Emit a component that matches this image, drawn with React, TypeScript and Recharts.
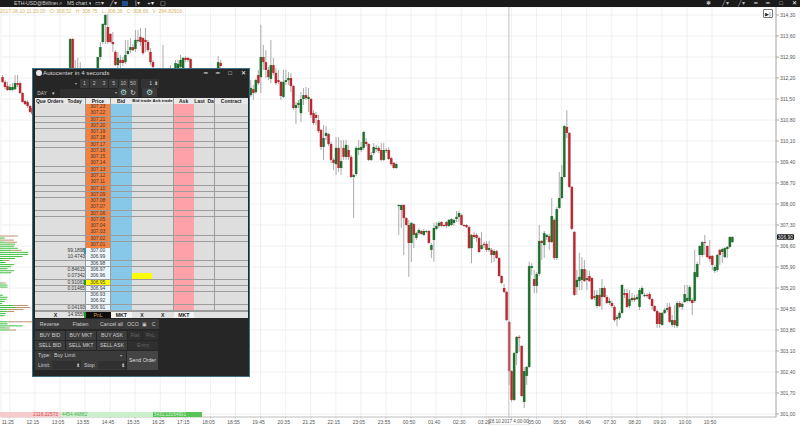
import { Bar, BarChart, CartesianGrid, ComposedChart, ReferenceLine, XAxis, YAxis } from 'recharts';

const _ = null;

// M5 candles, one entry per bar, null where the order window hides the bar
const opens = [
  312.23, 312.07, 311.93, 311.80, 311.80, 311.83, 312.03, 312.03, 311.70, 311.43,
  311.40, 311.27, 311.20, _, _, _, _, _, _, _,
  _, _, _, _, _, _, _, 311.80, 313.50, 312.30,
  311.97, 312.13, _, _, _, _, _, _, 312.30, 312.90,
  313.40, 313.97, 313.90, 313.67, 313.40, 313.07, 312.63, 312.80, 312.80, 312.73,
  313.00, 313.13, 313.23, 313.17, 313.43, 313.57, 313.53, 313.47, 313.40, 313.07,
  312.73, _, _, _, 312.47, _, _, 312.30, _, 312.40,
  312.47, 312.57, 312.53, 312.87, 312.87, 312.83, _, _, _, _,
  _, _, _, _, _, _, 312.30, 312.70, _, _,
  _, _, _, _, _, _, _, _, _, 311.63,
  311.83, 311.73, 312.30, 312.23, 312.90, 312.73, 312.47, 312.17, 312.63, 312.37,
  312.13, 312.07, 311.57, 312.07, 312.13, 312.20, 311.93, 311.20, 311.30, 311.03,
  311.50, 311.63, 311.50, 311.50, 311.03, 310.97, 310.80, 310.47, 309.90, 310.27,
  310.33, 310.00, 309.47, 309.33, 309.87, 309.20, 309.87, 309.57, 309.80, 309.57,
  308.90, 309.00, 309.80, 309.80, 309.87, 310.07, 310.00, 309.47, 309.70, 309.83,
  309.87, 309.80, 309.47, 309.77, 309.80, 309.53, 309.37, 309.20, 307.93, 307.80,
  307.97, 307.53, 307.30, 306.70, 307.33, 306.87, 307.03, 307.10, 306.97, 307.07,
  307.10, 306.47, 306.80, 307.17, 307.27, 307.40, 307.30, 307.40, 307.27, 307.30,
  307.37, 307.50, 307.57, 307.63, 307.30, 307.30, 307.23, 306.53, 306.97, 306.97,
  306.87, 306.50, 306.67, 306.67, 306.47, 306.47, 306.30, 306.43, 306.20, 305.60,
  305.20, 305.07, 304.07, 302.43, 301.47, 303.03, 303.57, 303.27, 301.40, 302.27,
  302.57, 305.87, 305.50, 305.27, 305.67, 306.77, 306.63, 306.90, 306.93, 306.73,
  307.47, 306.20, 307.87, 308.20, 308.90, 310.57, 310.37, 308.57, 307.07, 305.23,
  305.43, 305.47, 305.83, 305.47, 305.60, 305.53, 304.93, 304.60, 304.97, 304.90,
  305.20, 304.90, 304.70, 304.70, 304.57, 304.17, 304.20, 304.37, 305.03, 305.03,
  304.60, 304.80, 304.87, 304.83, 304.57, 305.00, 304.93, 304.97, 305.00, 304.83,
  304.60, 304.43, 304.37, 303.97, 304.37, 304.47, 304.57, 303.97, 304.13, 303.93,
  304.70, 304.57, 304.73, 304.77, 304.77, 304.80, 304.77, 305.57, 306.30, 306.30,
  306.73, 306.60, 306.27, 306.27, 305.77, 305.80, 306.47, 306.40, 306.23, 306.50, 306.57, 306.73,
];

const highs = [
  312.30, 312.13, 312.07, 312.00, 312.03, 312.30, 312.30, 312.07, 311.73, 311.47,
  311.47, 311.30, 311.23, _, _, _, _, _, _, _,
  _, _, _, _, _, _, _, 313.53, 313.53, 312.80,
  312.87, 312.73, _, _, _, _, _, _, 312.90, 313.40,
  314.03, 314.33, 314.33, 313.70, 313.73, 313.13, 313.07, 312.97, 312.90, 313.47,
  313.47, 313.53, 313.33, 313.80, 313.80, 313.87, 313.57, 313.87, 313.47, 313.20,
  312.80, _, _, _, 313.30, _, _, 312.63, _, 312.80,
  312.80, 312.97, 312.90, 312.93, 312.90, 312.87, _, _, _, _,
  _, _, _, _, _, _, 312.93, 312.80, _, _,
  _, _, _, _, _, _, _, _, _, 312.13,
  311.97, 312.17, 312.47, 313.97, 313.30, 313.13, 312.57, 313.47, 312.87, 312.53,
  312.47, 312.10, 312.47, 312.47, 312.40, 312.37, 311.97, 311.40, 311.47, 311.73,
  311.87, 311.90, 311.87, 311.53, 311.13, 311.07, 310.97, 310.50, 310.63, 310.60,
  310.37, 310.07, 309.53, 310.23, 310.23, 310.13, 310.13, 310.13, 309.97, 309.63,
  309.00, 309.93, 310.13, 310.07, 310.43, 310.20, 310.03, 309.73, 310.03, 309.97,
  309.93, 310.03, 310.03, 309.87, 309.90, 309.57, 309.40, 309.37, 307.97, 307.97,
  307.97, 307.57, 307.47, 307.40, 307.37, 307.07, 307.20, 307.13, 307.17, 307.13,
  307.13, 306.70, 307.37, 307.40, 307.43, 307.43, 307.33, 307.43, 307.50, 307.53,
  307.50, 307.77, 307.77, 307.67, 307.33, 307.33, 307.27, 307.00, 307.07, 307.03,
  306.93, 307.07, 306.73, 306.77, 306.77, 306.53, 306.50, 306.47, 306.23, 305.63,
  305.33, 305.10, 304.10, 302.47, 303.07, 303.60, 303.63, 303.30, 302.57, 302.60,
  306.07, 306.03, 305.80, 305.73, 307.30, 306.80, 307.10, 307.00, 307.00, 308.20,
  307.53, 307.90, 309.07, 309.30, 310.63, 311.13, 310.40, 308.60, 307.10, 305.80,
  306.37, 306.23, 306.13, 305.80, 305.77, 305.57, 305.13, 305.13, 305.20, 305.50,
  305.27, 304.97, 304.87, 304.77, 304.63, 304.30, 304.43, 305.33, 305.17, 305.17,
  305.13, 305.03, 304.97, 305.00, 305.20, 305.27, 305.03, 305.03, 305.07, 304.87,
  304.63, 304.47, 304.40, 304.40, 304.53, 304.70, 304.70, 304.30, 304.63, 304.77,
  304.77, 304.73, 305.30, 305.30, 305.30, 304.87, 306.47, 306.07, 306.63, 306.77,
  306.97, 306.63, 306.80, 306.30, 305.97, 306.33, 306.50, 306.53, 306.57, 306.60, 306.93, 306.93,
];

const lows = [
  312.03, 311.83, 311.77, 311.77, 311.77, 311.80, 311.90, 311.67, 311.37, 311.30,
  311.20, 311.03, 310.93, _, _, _, _, _, _, _,
  _, _, _, _, _, _, _, 311.73, 311.60, 311.47,
  311.63, 311.63, _, _, _, _, _, _, 312.13, 312.80,
  313.33, 313.33, 313.33, 313.37, 313.07, 312.60, 312.53, 312.53, 312.60, 312.67,
  312.97, 313.03, 313.10, 313.07, 313.37, 313.27, 312.97, 313.07, 313.07, 312.63,
  312.47, _, _, _, 311.97, _, _, 312.13, _, 312.13,
  312.30, 312.47, 312.40, 312.73, 312.73, 312.20, _, _, _, _,
  _, _, _, _, _, _, 312.27, 312.40, _, _,
  _, _, _, _, _, _, _, _, _, 311.57,
  311.47, 311.67, 311.97, 311.70, 312.47, 312.20, 312.13, 312.03, 312.30, 311.97,
  312.00, 311.47, 311.53, 311.97, 311.97, 311.73, 311.13, 310.67, 311.20, 310.73,
  311.30, 311.47, 311.07, 310.87, 310.63, 310.63, 310.37, 309.80, 309.47, 310.13,
  309.93, 309.37, 309.13, 308.97, 309.07, 308.97, 309.47, 309.47, 309.47, 308.87,
  307.53, 308.93, 309.63, 309.73, 309.80, 309.93, 309.43, 309.43, 309.63, 309.73,
  309.70, 309.43, 309.43, 309.70, 309.47, 309.27, 309.17, 309.17, 306.97, 307.20,
  306.30, 307.27, 305.57, 306.07, 306.53, 306.80, 306.97, 306.97, 306.93, 307.03,
  306.67, 306.20, 306.07, 307.13, 307.20, 307.23, 307.23, 307.20, 307.23, 307.27,
  307.27, 307.40, 307.40, 307.27, 307.23, 307.20, 306.50, 306.03, 306.83, 306.73,
  306.37, 306.47, 306.53, 306.40, 306.40, 306.03, 306.07, 306.17, 305.57, 305.33,
  305.03, 304.10, 301.97, 301.40, 301.43, 302.63, 303.07, 301.57, 301.20, 301.97,
  302.53, 305.63, 305.03, 305.03, 305.60, 306.13, 306.20, 306.80, 306.47, 306.70,
  306.13, 306.13, 307.83, 308.17, 308.87, 310.20, 308.53, 307.13, 304.93, 304.97,
  305.13, 305.13, 305.40, 305.13, 305.40, 304.80, 304.80, 304.53, 304.57, 304.47,
  304.87, 304.67, 304.63, 304.53, 304.07, 303.93, 304.13, 304.33, 304.87, 304.53,
  304.53, 304.73, 304.73, 304.80, 304.47, 304.97, 304.90, 304.87, 304.80, 304.47,
  304.40, 303.87, 303.87, 303.93, 304.33, 304.40, 304.03, 303.90, 303.87, 303.87,
  304.53, 304.47, 304.70, 304.73, 304.73, 304.30, 304.70, 305.53, 305.97, 306.23,
  306.30, 306.20, 306.07, 305.80, 305.70, 305.73, 305.97, 306.03, 306.20, 306.20, 306.53, 306.70,
];

const closes = [
  312.07, 311.90, 311.80, 311.90, 311.90, 312.03, 311.97, 311.70, 311.40, 311.33,
  311.27, 311.07, 311.00, _, _, _, _, _, _, _,
  _, _, _, _, _, _, _, 313.50, 311.63, 311.97,
  312.30, 311.80, _, _, _, _, _, _, 312.90, 313.23,
  314.00, 314.30, 313.40, 313.40, 313.33, 312.63, 312.87, 312.70, 312.70, 312.97,
  313.10, 313.23, 313.13, 313.47, 313.47, 313.40, 313.03, 313.40, 313.13, 312.73,
  312.57, _, _, _, 312.20, _, _, 312.47, _, 312.70,
  312.67, 312.80, 312.87, 312.80, 312.80, 312.30, _, _, _, _,
  _, _, _, _, _, _, 312.73, 312.60, _, _,
  _, _, _, _, _, _, _, _, _, 311.87,
  311.70, 312.13, 312.03, 312.90, 312.73, 312.47, 312.23, 312.63, 312.37, 312.03,
  312.07, 311.60, 312.07, 312.13, 312.20, 311.93, 311.20, 311.30, 311.37, 311.50,
  311.63, 311.53, 311.57, 310.97, 310.70, 310.87, 310.43, 309.90, 310.20, 310.37,
  310.00, 309.47, 309.37, 309.87, 309.20, 309.43, 309.57, 309.97, 309.57, 308.90,
  308.97, 309.87, 309.87, 309.90, 310.40, 310.00, 309.47, 309.63, 309.90, 309.87,
  309.77, 309.47, 309.80, 309.80, 309.50, 309.33, 309.20, 309.33, 307.97, 307.97,
  307.53, 307.30, 306.70, 307.37, 306.97, 307.03, 307.13, 307.00, 307.10, 307.10,
  306.70, 306.63, 307.20, 307.27, 307.37, 307.27, 307.27, 307.27, 307.47, 307.50,
  307.47, 307.57, 307.70, 307.30, 307.27, 307.23, 306.53, 306.97, 306.90, 306.87,
  306.40, 306.63, 306.63, 306.47, 306.53, 306.30, 306.43, 306.20, 305.60, 305.37,
  305.07, 304.13, 302.43, 301.47, 303.03, 303.57, 303.53, 301.60, 302.43, 302.57,
  305.93, 305.93, 305.27, 305.67, 306.77, 306.70, 307.03, 306.97, 306.73, 307.60,
  306.20, 307.83, 308.20, 308.90, 310.60, 310.37, 308.57, 307.17, 304.97, 305.47,
  305.57, 305.83, 305.43, 305.53, 305.43, 304.83, 304.87, 304.97, 304.60, 305.20,
  304.90, 304.70, 304.77, 304.60, 304.13, 304.23, 304.37, 305.30, 304.97, 304.57,
  304.83, 304.87, 304.80, 304.90, 305.13, 305.20, 304.97, 304.93, 304.83, 304.60,
  304.43, 304.00, 304.00, 304.37, 304.47, 304.53, 304.07, 304.13, 303.97, 304.70,
  304.57, 304.67, 305.00, 304.87, 305.23, 304.70, 305.73, 306.00, 306.60, 306.73,
  306.70, 306.23, 306.17, 305.97, 305.90, 306.30, 306.30, 306.50, 306.53, 306.57, 306.90, 306.90,
];

const SLOT_COUNT = 309;
const tickSlots = [3, 13, 23, 33, 43, 53, 63, 73, 83, 93, 103, 113, 123, 133, 143, 153, 163, 173, 183, 193, 203, 213, 223, 233, 243, 253, 263, 273, 283];
// the 04:10 label sits under the crosshair time box, so it stays empty
const tickLabels = ['11:25', '12:15', '13:05', '13:55', '14:45', '15:35', '16:25', '17:15', '18:05', '18:55', '19:45', '20:35', '21:25', '22:15', '23:05', '23:55', '00:50', '01:40', '02:30', '03:20', '', '05:00', '05:50', '06:40', '07:30', '08:20', '09:10', '10:00', '10:50'];
const priceTicks = [314.3, 313.6, 312.9, 312.2, 311.5, 310.8, 310.1, 309.4, 308.7, 308.0, 307.3, 306.6, 305.9, 305.2, 304.5, 303.8, 303.1, 302.4, 301.7, 301.0];
const LAST_PRICE = 306.9;
const CROSSHAIR_SLOT = 202;

// volume profile on the left edge, top row first
const profileBuy = [0, 5, 0, 6, 16, 15, 19, 12, 30, 30, 24, 16, 4, 6, 15, 12, 8, 15, 12, 0, 0, 0, 0, 1, 8, 8, 0, 0, 0, 3, 8, 7, 5, 2, 14, 16, 8, 8, 6, 5, 0, 0, 8, 8, 24, 6, 10];
const profileSell = [19, 0, 15, 12, 0, 0, 0, 11, 0, 0, 0, 0, 6, 0, 0, 0, 0, 0, 0, 0, 0, 0, 0, 5, 0, 0, 0, 0, 0, 0, 0, 0, 0, 0, 16, 16, 17, 7, 0, 0, 0, 0, 26, 0, 0, 4, 7];

// DOM ladder
const ladderPrices = ['307.23', '307.22', '307.21', '307.20', '307.19', '307.18', '307.17', '307.16', '307.15', '307.14', '307.13', '307.12', '307.11', '307.10', '307.09', '307.08', '307.07', '307.06', '307.05', '307.04', '307.03', '307.02', '307.01', '307.00', '306.99', '306.98', '306.97', '306.96', '306.95', '306.94', '306.93', '306.92', '306.91'];
const ladderToday: Record<string, string> = { '307.00': '99.1898', '306.99': '10.4743', '306.97': '0.84615', '306.96': '0.07342', '306.95': '0.91061', '306.94': '0.01465', '306.91': '0.04193' };
const ladderHeaders = ['Que', 'Orders', 'Today', 'Price', 'Bid', 'Bid trade', 'Ask trade', 'Ask', 'Last  Da', 'Contract'];
const chartRows = opens.map((o, i) => ({ open: o, high: highs[i], low: lows[i], close: closes[i] }));
const chartData = Array.from({ length: SLOT_COUNT }, (_v, i) => ({ slot: i, ...(chartRows[i] ?? { open: null, high: null, low: null, close: null }) }));
const profileData = profileBuy.map((b, i) => ({ row: i, buy: b, sell: profileSell[i] }));

const fmtPrice = (v: number) => v.toFixed(2).replace('.', ',');
const fmtSlot = (v: number) => tickLabels[tickSlots.indexOf(v)] ?? '';

function Candle(props: any) {
  const { x, y, width, height, payload } = props;
  if (payload.open == null || !Number.isFinite(y)) return null;
  const { open, high, low, close } = payload;
  const span = high - low || 1;
  const at = (p: number) => y + ((high - p) / span) * height;
  const top = at(Math.max(open, close));
  const bottom = at(Math.min(open, close));
  const cx = x + width / 2;
  const fill = close >= open ? '#1d6e2a' : '#b8292f';
  const h = Math.max(bottom - top, 0.9);
  return (
    <g>
      <line x1={cx} x2={cx} y1={y} y2={y + height} stroke="#a2a2a2" strokeWidth={0.9} />
      <rect x={cx - 1.6} y={top} width={3.2} height={h} fill={fill} opacity={0.28} />
      <rect x={cx - 1.1} y={top} width={2.2} height={h} fill={fill} />
    </g>
  );
}

function Box({ x, y, w, h, bg, color = '#e0e0e0', size = 5.2, align = 'center', weight, children }: any) {
  return (
    <div style={{ position: 'absolute', left: x, top: y, width: w, height: h, background: bg, color, fontSize: size, lineHeight: `${h}px`, textAlign: align, fontWeight: weight, whiteSpace: 'pre', overflow: 'hidden', boxSizing: 'border-box' }}>
      {children}
    </div>
  );
}

const colEdges = [35, 47, 64, 85.5, 110.5, 132, 152, 173.5, 194, 214.5, 248];
const ROW_TOP = 104;
const ROW_H = 6.27;

function OrderWindow() {
  const bg = (col: number, price: string) => {
    if (col === 3) return Number(price) >= 307.01 ? '#f6803e' : price === '306.95' ? '#ffff00' : '#eef5fb';
    if (col === 4) return '#87c8e8';
    if (col === 7) return '#ffa1a8';
    if (col === 5 && price === '306.96') return '#ffff00';
    return '#dedede';
  };
  return (
    <>
      <div style={{ position: 'absolute', left: 32, top: 68, width: 217.5, height: 309, background: '#262626', border: '1px solid #3f7288', boxSizing: 'border-box' }} />
      <div style={{ position: 'absolute', left: 36, top: 70, width: 6, height: 6, borderRadius: 3, background: '#e8e8e8' }} />
      <Box x={43} y={69} w={80} h={8} size={6.2} align="left" color="#d8d8d8">Autocenter in 4 seconds</Box>
      <Box x={201} y={69} w={10} h={8} size={6}>━</Box>
      <Box x={213} y={69} w={10} h={8} size={6}>━</Box>
      <Box x={225} y={69} w={10} h={8} size={6}>□</Box>
      <Box x={238} y={69} w={10} h={8} size={6} color="#fff">✕</Box>

      <Box x={72} y={79} w={8} h={9} size={4} color="#aaa">▾</Box>
      {['1', '2', '3', '5', '10', '50'].map((t, i) => (
        <Box key={t} x={80 + i * 9.7} y={79} w={9} h={9} bg="#3a3a3a" color="#bbb">{t}</Box>
      ))}
      <Box x={141} y={79} w={18} h={9} bg="#333" align="right" color="#ccc">{'1 ⬍ '}</Box>
      <Box x={36} y={89} w={22} h={9} size={4.8} align="left" color="#ccc">{' DAY    ▾'}</Box>
      <Box x={60} y={89} w={58} h={8} bg="#303030" align="right" size={4} color="#aaa">{'▾ '}</Box>
      <Box x={118} y={88} w={10} h={9} bg="#3a3a3a" size={8} color="#a8dcdc">⚙</Box>
      <Box x={128} y={88} w={10} h={9} bg="#3a3a3a" size={7} color="#ddd">↻</Box>
      <Box x={142} y={88} w={15} h={9} bg="#3a3a3a" size={8} color="#a8dcdc">⚙</Box>

      <Box x={35} y={97.5} w={213} h={214} bg="#9c9c9c" />
      {ladderHeaders.map((t, c) => (
        <Box key={t} x={colEdges[c]} y={97.5} w={colEdges[c + 1] - colEdges[c] - 0.3} h={6.5} bg="#e8e8e8" color="#222" size={t.includes('trade') ? 4.4 : 5} weight={700}>{t}</Box>
      ))}
      {ladderPrices.map((p, r) => (
        <div key={p}>
          {ladderHeaders.map((_h, c) => (
            <Box key={c} x={colEdges[c]} y={ROW_TOP + r * ROW_H} w={colEdges[c + 1] - colEdges[c] - 0.4} h={ROW_H - 0.6} bg={bg(c, p)} color="#3a3a3a" size={4.9} align={c === 2 ? 'right' : 'center'}>
              {c === 3 ? p : c === 2 ? ladderToday[p] ?? '' : ''}
            </Box>
          ))}
        </div>
      ))}
      <Box x={83.5} y={ROW_TOP + 23 * ROW_H} w={2} h={5.6} bg="#3d8fb0" />
      <Box x={83.5} y={ROW_TOP + 28 * ROW_H} w={2} h={5.6} bg="#1c9c1c" />

      <Box x={35} y={311.5} w={213} h={6.5} bg="#e2e2e2" />
      <Box x={47} y={311.5} w={17} h={6.5} color="#222" weight={700}>X</Box>
      <Box x={64} y={311.5} w={21.5} h={6.5} color="#333" size={4.9} align="right">14.9559</Box>
      <Box x={83.5} y={311.5} w={2} h={6.5} bg="#1c9c1c" />
      <Box x={85.5} y={311.5} w={25} h={6.5} bg="#0c0c0c" color="#d89a4a">PnL</Box>
      <Box x={110.5} y={311.5} w={21.5} h={6.5} bg="#f4f4f4" color="#222" weight={700}>MKT</Box>
      <Box x={132} y={311.5} w={20} h={6.5} color="#222" weight={700}>X</Box>
      <Box x={152} y={311.5} w={21.5} h={6.5} color="#222" weight={700}>X</Box>
      <Box x={173.5} y={311.5} w={20.5} h={6.5} bg="#f4f4f4" color="#222" weight={700}>MKT</Box>

      <Box x={35} y={319} w={124} h={10} bg="#3a3a3a" />
      <Box x={35} y={319} w={29} h={10} color="#ccc">Reverse</Box>
      <Box x={65} y={319} w={31} h={10} color="#ccc">Flatten</Box>
      <Box x={97} y={319} w={29} h={10} color="#ccc">Cancel all</Box>
      <Box x={126} y={319} w={14} h={10} color="#ccc">OCO</Box>
      <Box x={140} y={319} w={9} h={10} size={5} color="#ccc">▣</Box>
      <Box x={149} y={319} w={9} h={10} color="#ccc">C</Box>

      {[['BUY BID', 'BUY MKT', 'BUY ASK'], ['SELL BID', 'SELL MKT', 'SELL ASK']].map((row, r) => (
        <div key={r}>
          {row.map((t, c) => (
            <Box key={t} x={35 + c * 31} y={331 + r * 10} w={30} h={9.4} bg="#3c3c3c" color="#ccc">{t}</Box>
          ))}
        </div>
      ))}
      <Box x={128} y={331} w={14} h={9.4} bg="#2f2f2f" color="#666">Flat</Box>
      <Box x={143} y={331} w={15} h={9.4} bg="#2f2f2f" color="#666">PnL</Box>
      <Box x={128} y={341} w={30} h={9.4} bg="#2f2f2f" color="#666">Entry</Box>

      <Box x={35} y={351} w={91} h={19} bg="#3a3a3a" />
      <Box x={38} y={351} w={14} h={9.5} align="left" color="#ccc">Type:</Box>
      <Box x={54} y={351} w={40} h={9.5} align="left" color="#ccc">Buy Limit</Box>
      <Box x={117} y={351} w={8} h={9.5} size={4} color="#aaa">▾</Box>
      <Box x={38} y={361} w={12} h={9} align="left" color="#ccc">Limit:</Box>
      <Box x={52} y={361} w={29} h={8} bg="#303030" align="right" color="#ccc">{'⬍ '}</Box>
      <Box x={84} y={361} w={12} h={9} align="left" color="#ccc">Stop</Box>
      <Box x={98} y={361} w={28} h={8} bg="#303030" align="right" color="#ccc">{'⬍ '}</Box>
      <Box x={127} y={351} w={31} h={19} bg="#444" color="#ddd">Send Order</Box>
    </>
  );
}

export default function App() {
  return (
    <div style={{ position: 'absolute', left: 0, top: 0, width: 800, height: 425, overflow: 'hidden', background: '#fff', fontFamily: '"Liberation Sans"' }}>
      <div style={{ position: 'absolute', left: 0, top: 0 }}>
        <ComposedChart width={800} height={425} data={chartData} margin={{ top: 7, right: 0, bottom: 0, left: 1 }} barCategoryGap={0} barGap={0}>
          <CartesianGrid stroke="#ececec" strokeWidth={0.8} />
          <XAxis dataKey="slot" type="category" ticks={tickSlots} interval={0} tickFormatter={fmtSlot} height={8} tickSize={1.5} tickMargin={0} dx={-2} dy={1.5} stroke="#c4c4c4" tick={{ fontSize: 5, fill: '#555' }} />
          <YAxis orientation="right" type="number" width={24} domain={[300.9, 314.567]} ticks={priceTicks} interval={0} allowDataOverflow tickFormatter={fmtPrice} tickSize={3} tickMargin={1} stroke="#aaaaaa" tick={{ fontSize: 5, fill: '#555' }} />
          <Bar dataKey={(d: any) => (d.high == null ? null : [d.low, d.high])} shape={Candle} isAnimationActive={false} />
          <ReferenceLine
            x={CROSSHAIR_SLOT}
            stroke="#b0b0b0"
            strokeWidth={0.8}
            label={({ viewBox }: any) => (
              <g>
                <rect x={viewBox.x - 20} y={viewBox.y + viewBox.height} width={40} height={8} fill="#fff" stroke="#bbb" strokeWidth={0.6} />
                <text x={viewBox.x} y={viewBox.y + viewBox.height + 5.7} textAnchor="middle" fontSize={4.6} fill="#555">28.10.2017 4:00:00</text>
              </g>
            )}
          />
          <ReferenceLine
            y={LAST_PRICE}
            stroke="none"
            label={({ viewBox }: any) => (
              <g>
                <rect x={viewBox.x + viewBox.width + 1} y={viewBox.y - 2.8} width={17} height={5.6} rx={1} fill="#111" />
                <text x={viewBox.x + viewBox.width + 9.5} y={viewBox.y + 1.8} textAnchor="middle" fontSize={5} fill="#fff">{fmtPrice(LAST_PRICE)}</text>
              </g>
            )}
          />
        </ComposedChart>
      </div>

      <div style={{ position: 'absolute', left: 0, top: 235 }}>
        <BarChart width={32} height={96} data={profileData} layout="vertical" margin={{ top: 0, right: 0, bottom: 0, left: 0 }} barCategoryGap="25%">
          <XAxis type="number" domain={[0, 32]} hide />
          <YAxis type="category" dataKey="row" hide />
          <Bar dataKey="buy" stackId="p" fill="#3fbf3f" isAnimationActive={false} />
          <Bar dataKey="sell" stackId="p" fill="#b9946c" isAnimationActive={false} />
        </BarChart>
      </div>

      <Box x={0} y={412} w={61} h={5} bg="#f8cccc" />
      <Box x={33} y={412} w={28} h={5} size={4.8} color="#d05050" align="left">2116.22573</Box>
      <Box x={61} y={412} w={93} h={5} bg="#ccefcc" />
      <Box x={62} y={412} w={30} h={5} size={4.8} color="#50b050" align="left">4454.46882</Box>
      <Box x={153} y={412} w={49} h={5} bg="#58c358" />
      <Box x={154} y={412} w={47} h={5} size={4.6} color="#d8f5d8" align="left">5432.13154901</Box>

      <Box x={0} y={0} w={800} h={7} bg="#1b1b1b" />
      <Box x={14} y={0} w={44} h={6.5} size={5.2} align="left" color="#cfcfcf">ETH-USD@Bitfinex</Box>
      <Box x={56} y={0} w={8} h={6.5} size={6} color="#ddd">⌕</Box>
      <Box x={67} y={0} w={24} h={6.5} size={5.2} align="left" color="#cfcfcf">M5 chart ▾</Box>
      <Box x={94} y={0} w={11} h={6.5} size={6} color="#cfcfcf">▭▾</Box>
      <Box x={108} y={0} w={11} h={6.5} size={6} color="#cfcfcf">╱▾</Box>
      <Box x={122} y={1} w={6} h={5} bg="#1f4f8f" />
      <Box x={132} y={0} w={11} h={6.5} size={6} color="#cfcfcf">⌊▾</Box>
      <Box x={145} y={0} w={11} h={6.5} size={6} color="#e8e8e8">+▾</Box>
      <Box x={159} y={0} w={8} h={6.5} size={6} color="#cfcfcf">▢</Box>
      <Box x={704} y={0} w={8} h={6.5} size={5.5} color="#bbb">✱</Box>
      <Box x={720} y={0} w={11} h={6.5} size={5.5} color="#bbb">╱▾</Box>
      <Box x={736} y={0} w={11} h={6.5} size={5.5} color="#bbb">╱▾</Box>
      <Box x={752} y={0} w={8} h={6.5} size={6} color="#ddd">━</Box>
      <Box x={764} y={0} w={8} h={6.5} size={6} color="#ddd">━</Box>
      <Box x={777} y={0} w={8} h={6.5} size={6} color="#ddd">□</Box>
      <Box x={790} y={0} w={8} h={6.5} size={6} color="#fff">✕</Box>
      <Box x={0} y={8} w={190} h={6} size={5} align="left" color="#d8b468">2017.08.10 11:20:00   O: 308,52   H: 308,75   L: 308,38   C: 308,66   V: 294,82916</Box>
      <div style={{ position: 'absolute', left: 763, top: 9, width: 10, height: 9, border: '0.7px solid #777', borderRadius: 1, boxSizing: 'border-box', color: '#222', fontSize: 5, lineHeight: '8px', textAlign: 'center' }}>▶|</div>

      <OrderWindow />
    </div>
  );
}
